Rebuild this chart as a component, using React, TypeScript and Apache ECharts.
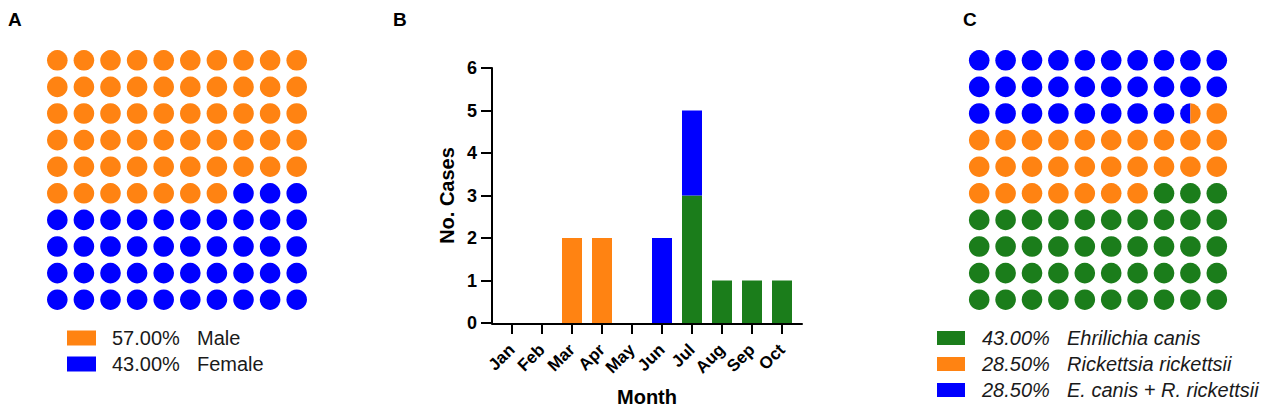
import React, { useEffect, useRef } from "react";
import * as echarts from "echarts";

const ORANGE = "#FF8312";
const BLUE = "#0000FF";
const GREEN = "#1B7D1B";

// Panel A – sex distribution (waffle, % of 100 dots)
const sexLabels = ["Male", "Female"];
const sexPercents = [57.0, 43.0];
const sexColors = [ORANGE, BLUE];
const sexFillOrder = [0, 1];

// Panel B – cases per month
const months = ["Jan", "Feb", "Mar", "Apr", "May", "Jun", "Jul", "Aug", "Sep", "Oct"];
const casesEhrlichia = [0, 0, 0, 0, 0, 0, 3, 1, 1, 1];
const casesRickettsia = [0, 0, 2, 2, 0, 0, 0, 0, 0, 0];
const casesCoinfection = [0, 0, 0, 0, 0, 2, 2, 0, 0, 0];
const yMax = 6;
const yInterval = 1;

// Panel C – agent distribution (waffle)
const agentLabels = ["Ehrilichia canis", "Rickettsia rickettsii", "E. canis + R. rickettsii"];
const agentPercents = [43.0, 28.5, 28.5];
const agentColors = [GREEN, ORANGE, BLUE];
const agentFillOrder = [2, 1, 0];

type Seg = { color: string; frac: number };

function waffleCells(percents: number[], colors: string[], order: number[]) {
  const pieces = order.map((i) => ({ color: colors[i], amount: percents[i] }));
  const cells: { value: number[]; segs: Seg[] }[] = [];
  let p = 0;
  let rem = pieces[0].amount;
  for (let c = 0; c < 100; c++) {
    let need = 1;
    const segs: Seg[] = [];
    while (need > 1e-9 && p < pieces.length) {
      const take = Math.min(need, rem);
      if (take > 1e-9) segs.push({ color: pieces[p].color, frac: take });
      need -= take;
      rem -= take;
      if (rem <= 1e-9) {
        p++;
        rem = p < pieces.length ? pieces[p].amount : 0;
      }
    }
    cells.push({ value: [c % 10, Math.floor(c / 10)], segs });
  }
  return cells;
}

function waffleSeries(cells: { value: number[]; segs: Seg[] }[], axisIndex: number, r: number) {
  return {
    type: "custom",
    xAxisIndex: axisIndex,
    yAxisIndex: axisIndex,
    data: cells.map((c) => c.value),
    renderItem: (params: any, api: any) => {
      const cell = cells[params.dataIndex];
      const pt = api.coord([api.value(0), api.value(1)]);
      if (cell.segs.length === 1) {
        return {
          type: "circle",
          shape: { cx: pt[0], cy: pt[1], r },
          style: { fill: cell.segs[0].color },
        };
      }
      let start = Math.PI / 2;
      const children = cell.segs.map((s) => {
        const end = start + Math.PI * 2 * s.frac;
        const el = {
          type: "sector",
          shape: { cx: pt[0], cy: pt[1], r, r0: 0, startAngle: start, endAngle: end, clockwise: true },
          style: { fill: s.color },
        };
        start = end;
        return el;
      });
      return { type: "group", children };
    },
  };
}

const FONT = "'Liberation Sans', Arial, Helvetica, sans-serif";

function legendGraphics(
  labels: string[],
  percents: number[],
  colors: string[],
  boxX: number,
  boxW: number,
  boxH: number,
  pctX: number,
  nameX: number,
  y0: number,
  dy: number,
  italic: boolean
) {
  const out: any[] = [];
  const font = `${italic ? "italic " : ""}20px ${FONT}`;
  labels.forEach((lab, i) => {
    const cy = y0 + i * dy;
    out.push({
      type: "rect",
      shape: { x: boxX, y: cy - boxH / 2, width: boxW, height: boxH },
      style: { fill: colors[i] },
    });
    out.push({
      type: "text",
      x: pctX,
      y: cy,
      style: { text: `${percents[i].toFixed(2)}%`, font, fill: "#1a1a1a", verticalAlign: "middle" },
    });
    out.push({
      type: "text",
      x: nameX,
      y: cy,
      style: { text: lab, font, fill: "#1a1a1a", verticalAlign: "middle" },
    });
  });
  return out;
}

export default function App() {
  const ref = useRef<HTMLDivElement>(null);

  useEffect(() => {
    if (!ref.current) return;
    const chart = echarts.init(ref.current, undefined, { renderer: "svg" });

    const cellsA = waffleCells(sexPercents, sexColors, sexFillOrder);
    const cellsC = waffleCells(agentPercents, agentColors, agentFillOrder);
    const nz = (arr: number[]) => arr.map((v) => (v === 0 ? "-" : v));

    const hiddenAxis = (grid: number, inverse = false) => ({
      type: "value",
      gridIndex: grid,
      min: -0.5,
      max: 9.5,
      inverse,
      show: false,
    });

    const panelLabel = (t: string, x: number) => ({
      type: "text",
      x,
      y: 10,
      style: { text: t, font: `bold 19px ${FONT}`, fill: "#000" },
    });

    chart.setOption({
      animation: false,
      backgroundColor: "#fff",
      textStyle: { fontFamily: FONT },
      grid: [
        { left: 44, top: 47, width: 266, height: 266 },
        { left: 497, top: 68, width: 300, height: 256 },
        { left: 966, top: 47, width: 264, height: 266 },
        { left: 492, top: 68, width: 310, height: 256 },
      ],
      xAxis: [
        hiddenAxis(0),
        {
          type: "category",
          gridIndex: 1,
          data: months,
          axisLine: { show: false },
          axisTick: { show: true, alignWithLabel: true, length: 11, lineStyle: { color: "#000", width: 2 } },
          axisLabel: {
            rotate: 45,
            interval: 0,
            margin: 24,
            color: "#000",
            fontWeight: "bold",
            fontSize: 17,
            fontFamily: FONT,
          },
          name: "Month",
          nameLocation: "middle",
          nameGap: 64,
          nameTextStyle: { color: "#000", fontWeight: "bold", fontSize: 20, fontFamily: FONT },
        },
        hiddenAxis(2),
        {
          type: "value",
          gridIndex: 3,
          min: 0,
          max: 1,
          axisLine: { show: true, lineStyle: { color: "#000", width: 2 } },
          axisTick: { show: false },
          axisLabel: { show: false },
          splitLine: { show: false },
        },
      ],
      yAxis: [
        hiddenAxis(0, true),
        {
          type: "value",
          gridIndex: 1,
          min: 0,
          max: yMax,
          interval: yInterval,
          offset: 5,
          axisLine: { show: true, lineStyle: { color: "#000", width: 2 } },
          axisTick: { show: true, length: 11, lineStyle: { color: "#000", width: 2 } },
          axisLabel: { color: "#000", fontWeight: "bold", fontSize: 18, margin: 15, fontFamily: FONT },
          splitLine: { show: false },
          name: "No. Cases",
          nameLocation: "middle",
          nameGap: 35,
          nameTextStyle: { color: "#000", fontWeight: "bold", fontSize: 20, fontFamily: FONT },
        },
        hiddenAxis(2, true),
        { type: "value", gridIndex: 3, show: false, min: 0, max: 1 },
      ],
      series: [
        waffleSeries(cellsA, 0, 10.3),
        waffleSeries(cellsC, 2, 10.3),
        {
          type: "bar",
          name: agentLabels[0],
          xAxisIndex: 1,
          yAxisIndex: 1,
          stack: "cases",
          barWidth: 20,
          itemStyle: { color: GREEN },
          data: nz(casesEhrlichia),
        },
        {
          type: "bar",
          name: agentLabels[1],
          xAxisIndex: 1,
          yAxisIndex: 1,
          stack: "cases",
          barWidth: 20,
          itemStyle: { color: ORANGE },
          data: nz(casesRickettsia),
        },
        {
          type: "bar",
          name: agentLabels[2],
          xAxisIndex: 1,
          yAxisIndex: 1,
          stack: "cases",
          barWidth: 20,
          itemStyle: { color: BLUE },
          data: nz(casesCoinfection),
        },
      ],
      graphic: [
        panelLabel("A", 8),
        panelLabel("B", 393),
        panelLabel("C", 963),
        ...legendGraphics(sexLabels, sexPercents, sexColors, 67, 29, 15, 112, 197, 338, 26, false),
        ...legendGraphics(agentLabels, agentPercents, agentColors, 937, 28, 14, 982, 1067, 338, 26, true),
      ],
    });

    return () => chart.dispose();
  }, []);

  return (
    <div
      ref={ref}
      style={{ position: "absolute", left: 0, top: 0, width: 1280, height: 412, background: "#fff" }}
    />
  );
}
